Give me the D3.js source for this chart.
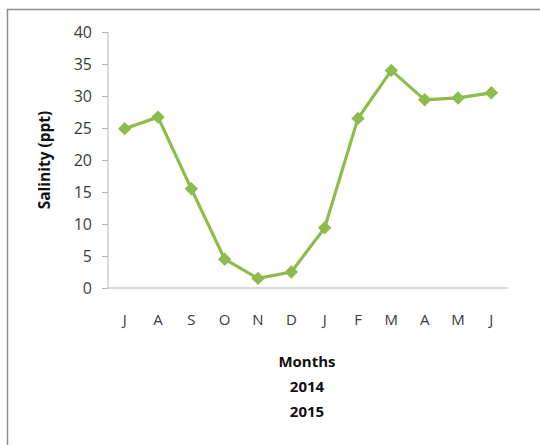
<!DOCTYPE html>
<html>
<head>
<meta charset="utf-8">
<script src="https://cdn.jsdelivr.net/npm/d3@7"></script>
<style>
  body { margin: 0; background: #fff; }
  svg { display: block; }
</style>
</head>
<body>
<svg></svg>
<script>
var months = ["J", "A", "S", "O", "N", "D", "J", "F", "M", "A", "M", "J"];
var salinity = [24.9, 26.7, 15.5, 4.5, 1.5, 2.5, 9.4, 26.5, 34.0, 29.4, 29.7, 30.5];
var yTicks = [0, 5, 10, 15, 20, 25, 30, 35, 40];
var xTitle = ["Months", "2014", "2015"];

var width = 540;
var height = 445;
var font = "'Open Sans', Carlito, sans-serif";

var svg = d3.select("svg")
            .attr("width", width)
            .attr("height", height);

// chart frame
svg.append("rect")
   .attr("x", 7.5)
   .attr("y", 9.5)
   .attr("width", 560)
   .attr("height", 460)
   .attr("fill", "none")
   .attr("stroke", "#8c8c8c")
   .attr("stroke-width", 1.5);

var x = d3.scaleBand()
          .domain(d3.range(months.length))
          .range([108, 508]);

var y = d3.scaleLinear()
          .domain([0, 40])
          .range([288, 32]);

// y axis
var yAxis = svg.append("g")
   .attr("transform", "translate(108,0)")
   .call(d3.axisLeft(y).tickValues(yTicks).tickSize(6).tickPadding(10));
yAxis.select(".domain").attr("stroke", "#b5b5b5").attr("d", "M0,32V288");
yAxis.selectAll(".tick line").attr("stroke", "#b5b5b5");
yAxis.selectAll("text")
     .attr("font-family", font)
     .attr("font-size", 16)
     .attr("fill", "#3a3a3a");

// x axis
var xAxis = svg.append("g")
   .attr("transform", "translate(0,288)")
   .call(d3.axisBottom(x).tickSize(0).tickPadding(26).tickFormat(function(i) { return months[i]; }));
xAxis.select(".domain").attr("stroke", "#b5b5b5").attr("d", "M108,0H508");
xAxis.selectAll("text")
     .attr("font-family", font)
     .attr("font-size", 15)
     .attr("fill", "#3a3a3a");

// line
var line = d3.line()
             .x(function(d, i) { return x(i) + x.bandwidth() / 2; })
             .y(function(d) { return y(d); });

svg.append("path")
   .datum(salinity)
   .attr("d", line)
   .attr("fill", "none")
   .attr("stroke", "#8dbb4c")
   .attr("stroke-width", 3.2)
   .attr("stroke-linejoin", "round");

svg.selectAll("path.marker")
   .data(salinity)
   .enter()
   .append("path")
   .attr("class", "marker")
   .attr("d", d3.symbol().type(d3.symbolDiamond2).size(115))
   .attr("transform", function(d, i)
   {
     return "translate(" + (x(i) + x.bandwidth() / 2) + "," + y(d) + ")";
   })
   .attr("fill", "#8dbb4c");

// titles
svg.append("text")
   .text("Salinity (ppt)")
   .attr("transform", "translate(50,160) rotate(-90)")
   .attr("text-anchor", "middle")
   .attr("font-family", font)
   .attr("font-size", 15.5)
   .attr("font-weight", "bold")
   .attr("fill", "#111");

svg.selectAll("text.xtitle")
   .data(xTitle)
   .enter()
   .append("text")
   .attr("class", "xtitle")
   .text(function(d) { return d; })
   .attr("x", 307)
   .attr("y", function(d, i) { return 367 + i * 25; })
   .attr("text-anchor", "middle")
   .attr("font-family", font)
   .attr("font-size", 15)
   .attr("font-weight", "bold")
   .attr("fill", "#111");
</script>
</body>
</html>
